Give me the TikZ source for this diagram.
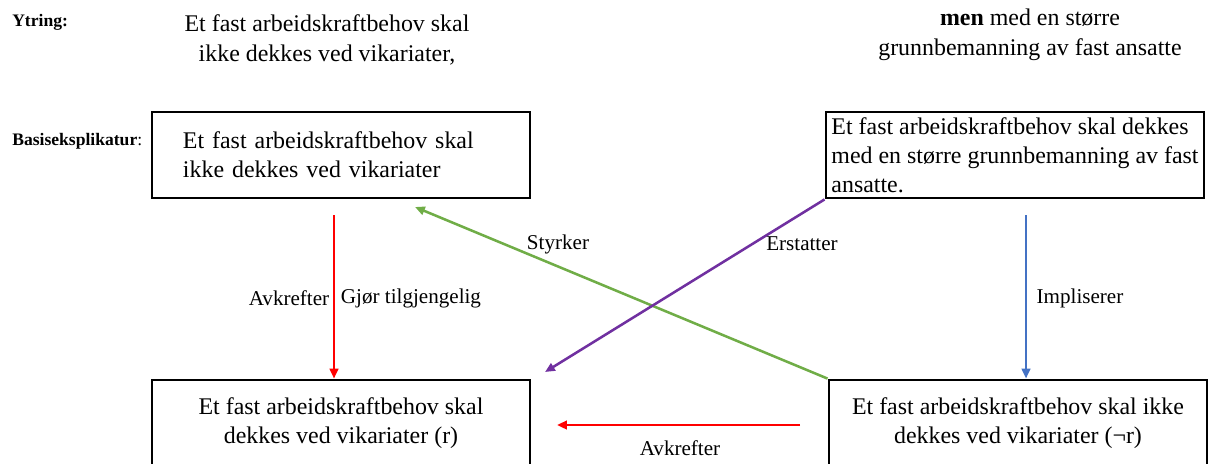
\documentclass[tikz,border=0pt]{standalone}
\usepackage{fontspec}
\setmainfont{Liberation Serif}
\usetikzlibrary{arrows.meta,positioning,calc}
\definecolor{argRed}{RGB}{255,0,0}
\definecolor{argGreen}{RGB}{112,173,71}
\definecolor{argPurple}{RGB}{112,48,160}
\definecolor{argBlue}{RGB}{68,114,196}

\begin{document}
\begin{tikzpicture}[
  x=0.025cm, y=-0.025cm,
  box/.style={draw, line width=2pt, minimum width=9.45cm, minimum height=2.15cm,
              font=\fontsize{17}{20.5}\selectfont, inner sep=1pt},
  utext/.style={font=\fontsize{17}{21.5}\selectfont, align=center},
  lab/.style={font=\fontsize{15}{17}\selectfont},
  head/.style={font=\bfseries\fontsize{12.5}{15}\selectfont, inner sep=0pt, anchor=west},
  rel/.style={line width=1.8pt, -{Triangle[length=7pt,width=6pt]}}
]
  \useasboundingbox (0,0) rectangle (1210,463);

  % row labels
  \node[head] (ytr) at (12,22) {Ytring:};
  \node[head] (bas) at (12,141) {Basiseksplikatur\textmd{:}};

  % the utterance
  \node[utext] (utL) at (327,40) {Et fast arbeidskraftbehov skal\\ikke dekkes ved vikariater,};
  \node[utext] (utR) at (1030,35) {\textbf{men} med en større\\grunnbemanning av fast ansatte};

  % boxes
  \node[box, text width=7.9cm, align=left] (bA) at (341,155)
        {Et fast arbeidskraftbehov skal\\ikke dekkes ved vikariater\\[4pt]};
  \node[box, align=left] (bB) at (1015,155)
        {Et fast arbeidskraftbehov skal dekkes\\med en større grunnbemanning av fast\\ansatte.};
  \node[box, align=center] (bC) at (341,423)
        {Et fast arbeidskraftbehov skal\\dekkes ved vikariater (r)};
  \node[box, align=center] (bD) at (1018,423)
        {Et fast arbeidskraftbehov skal ikke\\dekkes ved vikariater (¬r)};

  % free ends
  \coordinate (avTop) at (334,215);
  \coordinate (stEnd) at (415,207);
  \coordinate (erEnd) at (545,372);
  \coordinate (imTop) at (1026,215);
  \coordinate (hzStart) at (800,425);
  \coordinate (hzEnd) at (557,425);

  % relations
  \draw[rel, argRed] (avTop) -- (avTop |- bC.north);
  \draw[rel, argGreen] (bD.north west) -- (stEnd);
  \draw[rel, argPurple] (bB.south west) -- (erEnd);
  \draw[rel, argBlue] (imTop) -- (imTop |- bD.north);
  \draw[rel, argRed] (hzStart) -- (hzEnd);

  \node[lab] (lAv) at (289,298) {Avkrefter};
  \node[lab] (lGj) at (411,298) {Gjør tilgjengelig};
  \node[lab] (lSt) at (558,244) {Styrker};
  \node[lab] (lEr) at (802,244) {Erstatter};
  \node[lab] (lIm) at (1080,298) {Impliserer};
  \node[lab] (lAvB) at (680,448) {Avkrefter};
\end{tikzpicture}
\end{document}
